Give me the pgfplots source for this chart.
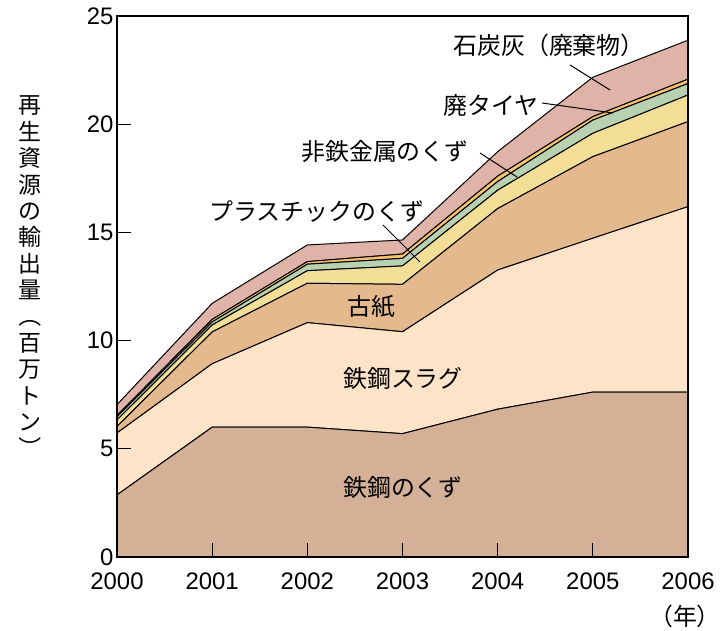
\documentclass[border=0pt]{standalone}
\usepackage{fontspec}
\usepackage{graphicx}
\setmainfont{Liberation Sans}
\newfontfamily\cjk{Noto Sans CJK JP}
\usepackage{pgfplots}
\pgfplotsset{compat=1.18}

\definecolor{cScrap}{RGB}{212,176,150}
\definecolor{cSlag}{RGB}{253,227,200}
\definecolor{cPaper}{RGB}{228,185,142}
\definecolor{cPlastic}{RGB}{242,222,151}
\definecolor{cNonfe}{RGB}{184,209,176}
\definecolor{cTire}{RGB}{249,195,110}
\definecolor{cAsh}{RGB}{223,179,168}

\begin{document}
\begin{tikzpicture}[x=1bp,y=1bp]
\useasboundingbox (-117,-74) rectangle (605,557);
\begin{axis}[
  at={(0,0)}, anchor=south west,
  scale only axis, width=571bp, height=541bp,
  xmin=2000, xmax=2006, ymin=0, ymax=25,
  xtick={2000,2001,2002,2003,2004,2005,2006},
  ytick={0,5,10,15,20,25},
  /pgf/number format/set thousands separator={},
  /pgf/number format/assume math mode=true,
  stack plots=y, area style,
  axis line style={line width=1.3bp},
  tick style={line width=1.1bp, black},
  major tick length=14bp,
  tick align=inside,
  xtick pos=bottom, ytick pos=left,
  ticklabel style={font=\fontsize{24}{24}\selectfont},
  xticklabel style={yshift=-12bp},
  axis on top,
]
\addplot[draw=black, line width=1bp, fill=cScrap] coordinates {
 (2000,2.87) (2001,6.00) (2002,6.00) (2003,5.70) (2004,6.83) (2005,7.62) (2006,7.62)} \closedcycle;
\addplot[draw=black, line width=1bp, fill=cSlag] coordinates {
 (2000,2.86) (2001,2.93) (2002,4.83) (2003,4.71) (2004,6.43) (2005,7.11) (2006,8.57)} \closedcycle;
\addplot[draw=black, line width=1bp, fill=cPaper] coordinates {
 (2000,0.30) (2001,1.47) (2002,1.82) (2003,2.19) (2004,2.84) (2005,3.77) (2006,3.93)} \closedcycle;
\addplot[draw=black, line width=1bp, fill=cPlastic] coordinates {
 (2000,0.30) (2001,0.32) (2002,0.58) (2003,0.85) (2004,0.85) (2005,1.08) (2006,1.23)} \closedcycle;
\addplot[draw=black, line width=1bp, fill=cNonfe] coordinates {
 (2000,0.15) (2001,0.14) (2002,0.30) (2003,0.35) (2004,0.40) (2005,0.61) (2006,0.53)} \closedcycle;
\addplot[draw=black, line width=1bp, fill=cTire] coordinates {
 (2000,0.06) (2001,0.12) (2002,0.12) (2003,0.20) (2004,0.25) (2005,0.16) (2006,0.20)} \closedcycle;
\addplot[draw=black, line width=1bp, fill=cAsh] coordinates {
 (2000,0.50) (2001,0.74) (2002,0.77) (2003,0.65) (2004,1.13) (2005,1.82) (2006,1.80)} \closedcycle;
\end{axis}
\tikzset{jp/.style={font=\cjk\fontsize{24}{24}\selectfont}}
\node[jp] at (432,512) {石炭灰（廃棄物）};
\node[jp] at (374,452) {廃タイヤ};
\node[jp] at (268,405) {非鉄金属のくず};
\node[jp] at (200,346) {プラスチックのくず};
\node[jp] at (254,250) {古紙};
\node[jp] at (286,179) {鉄鋼スラグ};
\node[jp] at (286,70) {鉄鋼のくず};
\node[jp, inner sep=0pt] at (568,-59) {（年）};
\draw[line width=1bp] (453,492) -- (493,467);
\draw[line width=1bp] (425,454) -- (496,444);
\draw[line width=1bp] (363,404) -- (400,380);
\draw[line width=1bp] (266,332) -- (303,295);
\node[font=\cjk\fontsize{23}{26.5}\selectfont, align=center, inner sep=0pt] at (-87,279)
 {再\\生\\資\\源\\の\\輸\\出\\量\\\rotatebox[origin=c]{-90}{（}\\百\\万\\ト\\ン\\\rotatebox[origin=c]{-90}{）}};
\end{tikzpicture}
\end{document}
